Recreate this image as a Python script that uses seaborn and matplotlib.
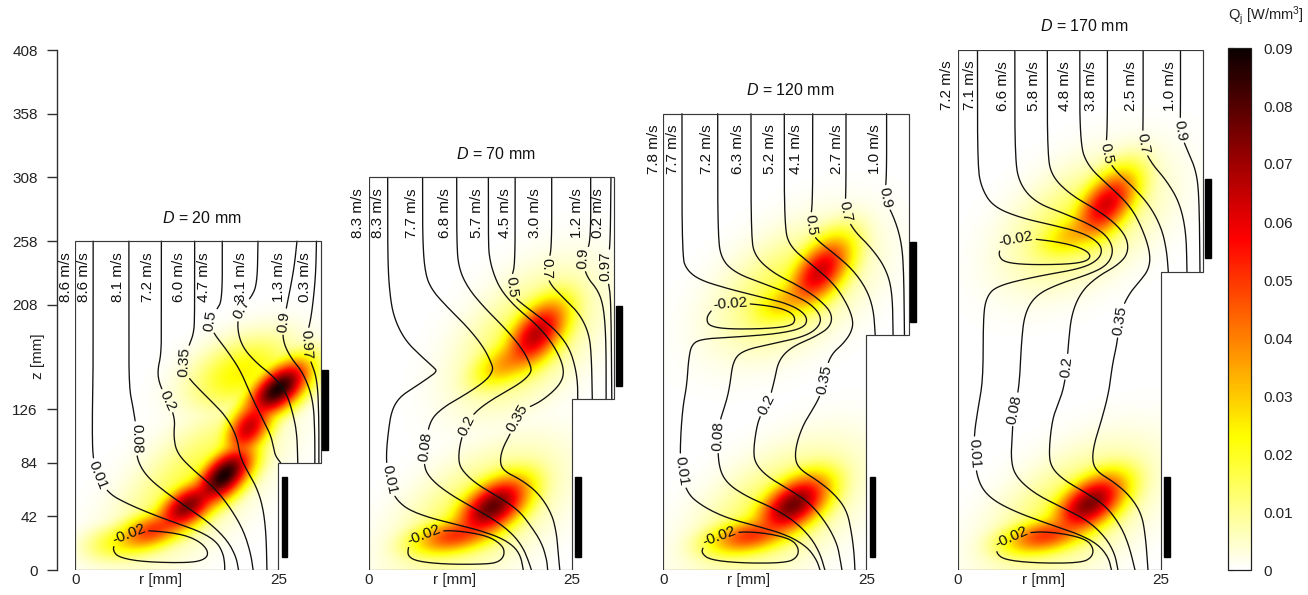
import numpy as np
import matplotlib
matplotlib.use("Agg")
import matplotlib.pyplot as plt
import matplotlib.transforms as mtransforms
from matplotlib.patches import Rectangle
from matplotlib import font_manager
import seaborn as sns

sns.set_theme(style="white")
_avail = {f.name for f in font_manager.fontManager.ttflist}
BASE = "Liberation Sans" if "Liberation Sans" in _avail else "DejaVu Sans"
plt.rcParams["font.family"] = [BASE, "DejaVu Sans"]
plt.rcParams["mathtext.fontset"] = "custom"
plt.rcParams["mathtext.rm"] = BASE
plt.rcParams["mathtext.it"] = BASE + ":italic"
plt.rcParams["mathtext.bf"] = BASE + ":bold"

# ------------------------------------------------------------------ data
D_MM = [20, 70, 120, 170]
Z_TOP = [258, 308, 358, 408]
Z_STEP = [84, 134, 184, 234]
R_LOWER = 25.0
R_UPPER = 30.2
Z_TICKS = [0, 42, 84, 126, 208, 258, 308, 358, 408]
CBAR_TICKS = [0, 0.01, 0.02, 0.03, 0.04, 0.05, 0.06, 0.07, 0.08, 0.09]
Q_MAX = 0.09
LOWER_COIL = (25.4, 26.1, 10.5, 72.8)          # r0, r1, z0, z1
UPPER_COIL_R = (30.4, 31.1)
UPPER_COIL_DZ = (74.5, 137.0)                  # z = D + ...

VEL_TXT = [
    ["8.6 m/s", "8.6 m/s", "8.1 m/s", "7.2 m/s", "6.0 m/s", "4.7 m/s", "3.1 m/s", "1.3 m/s", "0.3 m/s"],
    ["8.3 m/s", "8.3 m/s", "7.7 m/s", "6.8 m/s", "5.7 m/s", "4.5 m/s", "3.0 m/s", "1.2 m/s", "0.2 m/s"],
    ["7.8 m/s", "7.7 m/s", "7.2 m/s", "6.3 m/s", "5.2 m/s", "4.1 m/s", "2.7 m/s", "1.0 m/s"],
    ["7.2 m/s", "7.1 m/s", "6.6 m/s", "5.8 m/s", "4.8 m/s", "3.8 m/s", "2.5 m/s", "1.0 m/s"],
]
VEL_R = [
    [-1.15, 1.07, 5.3, 8.9, 12.8, 15.8, 20.4, 25.1, 28.3],
    [-1.3, 1.15, 5.3, 9.4, 13.3, 16.7, 20.4, 25.6, 28.2],
    [-1.2, 1.2, 5.35, 9.25, 13.2, 16.4, 21.4, 26.1],
    [-1.3, 1.5, 5.6, 9.4, 13.2, 16.4, 21.3, 26.1],
]

# heat sources: r, z, peak [W/mm3], spread along / across [px], tilt [deg]
HEAT_1 = [(25.0, 142, 0.088, 27, 14, 40), (21.4, 112, 0.064, 24, 14, 55),
          (18.3, 74, 0.088, 27, 14, 45), (13.8, 50, 0.074, 26, 14, 35),
          (9.5, 31, 0.05, 28, 13, 20), (5.8, 22, 0.022, 26, 13, 10),
          (20.5, 155, 0.024, 38, 22, 25), (15.0, 70, 0.018, 70, 30, 45)]
HEAT_2 = [(20.6, 185, 0.066, 31, 17, 50), (17.0, 163, 0.036, 28, 15, 30),
          (19.5, 182, 0.018, 55, 32, 45),
          (15.2, 49.5, 0.078, 31, 17, 35), (10.6, 27, 0.05, 32, 13, 12),
          (13.5, 45, 0.018, 60, 32, 35)]
HEAT_3 = [(19.3, 234, 0.063, 31, 17, 50), (15.5, 212, 0.032, 30, 15, 25),
          (16.0, 222, 0.018, 55, 32, 35),
          (16.0, 51, 0.076, 31, 17, 35), (10.8, 27, 0.05, 32, 13, 12),
          (14.0, 46, 0.018, 60, 32, 35)]
HEAT_4 = [(18.2, 287, 0.062, 31, 17, 50), (14.5, 265, 0.032, 30, 15, 25),
          (15.5, 274, 0.018, 55, 32, 35),
          (16.2, 52, 0.074, 31, 17, 35), (10.8, 27, 0.05, 32, 13, 12),
          (14.0, 46, 0.018, 60, 32, 35)]

# stream lines (r [mm], z [mm])
P1_001 = [(2.2,258),(2.2,200),(2.2,160),(2.1,125),(2.1,100),(2.2,88),(2.7,74),(4.1,60),(6.3,52.3),(9.2,44.4),(12.5,36.6),(15.4,30.1),(17.4,22.3),(18.2,13.1),(18.4,5),(18.4,0)]
P1_008 = [(6.6,258),(6.6,200),(6.6,144),(7.1,128),(7.5,112),(7.5,100),(7.6,86.3),(8.8,73.2),(11.3,60.1),(13.7,49.7),(16.6,36.6),(18.7,23.5),(19.8,10.5),(20.1,0)]
P1_020 = [(10.6,258),(10.6,200),(10.6,170),(10.1,156),(10.4,145),(11.4,133),(12.3,119),(12.1,105),(12.5,91.6),(14.5,78.5),(17.0,65.4),(19.0,49.7),(20.7,31.4),(21.6,13.1),(21.9,0)]
P1_035 = [(14.7,258),(14.7,200),(14.6,186),(14.0,176),(13.3,164),(13.6,154),(14.6,146),(16.6,133.4),(18.6,120.3),(19.9,104.6),(20.3,88.9),(21.1,78.5),(22.3,65.4),(23.1,49.7),(23.5,28.8),(23.6,0)]
P1_050 = [(18.1,258),(18.1,212),(17.4,204),(16.4,196),(17.0,186),(18.6,173),(20.3,157),(21.5,139),(22.7,123),(24.0,107),(24.4,97),(24.6,90),(25.3,84)]
P1_070 = [(22.5,258),(22.4,225),(21.7,214),(20.3,205),(19.9,191),(20.5,175.5),(22.3,162.4),(24.4,152),(26.0,139),(26.8,123),(27.3,107),(27.4,84)]
P1_090 = [(27.3,258),(27.0,240),(26.6,225),(26.0,206),(25.7,195),(25.5,181),(26.4,167.6),(28.1,154.5),(29.3,133.6),(29.5,107.4),(29.5,84)]
P1_097 = [(29.7,258),(29.6,230),(29.1,200),(28.6,186),(28.4,177),(28.9,165),(29.8,150),(30.0,120),(30.0,84)]
P1_LOOP = [(4.9,21),(5.8,26.5),(7.5,30.5),(9.2,31),(12.9,28.5),(15.2,23),(16.4,15),(16.1,8.5),(14.1,5.5),(8.4,6.3),(5.3,9.9),(4.6,15.7),(4.9,21)]

P2_001 = [(2.3,308),(2.3,246),(2.5,220),(3.0,199),(4.4,180.4),(6.5,167.3),(7.9,159.4),(8.4,156),(7.5,151.6),(5.7,143.8),(3.8,136),(2.8,125.5),(2.4,110),(2.1,90),(2.3,75),(2.7,64),(3.4,55),(4.9,47),(7.7,40.5),(11.0,35.5),(13.9,30.5),(16.3,25),(17.9,18.3),(18.7,10.5),(19.0,0)]
P2_008 = [(6.6,308),(6.6,259),(6.9,233),(7.7,220),(9.6,206.5),(12.1,190.8),(14.1,175),(15.1,162),(15.3,156.8),(14.5,149),(12.1,138.5),(9.2,128),(7.5,117.5),(7.0,99),(6.7,81),(7.7,70.6),(9.8,60.1),(12.6,49.7),(15.5,39.2),(17.6,28.8),(18.9,18.3),(19.6,7.8),(20.0,0)]
P2_020 = [(10.8,308),(10.8,259),(11.0,238),(12.1,222),(14.1,206.5),(17.0,188),(19.0,172.5),(20.0,159.4),(19.9,154),(18.6,146.3),(15.7,136),(13.3,125.5),(12.0,115),(11.2,99.4),(11.0,86.3),(11.4,78.5),(13.1,68),(15.9,57.5),(18.4,47.1),(20.0,34),(21.3,20.9),(21.9,7.8),(22.0,0)]
P2_035 = [(14.7,308),(14.7,259),(14.8,246),(15.3,233),(16.2,220),(18.0,206.5),(20.4,194),(22.3,180.4),(23.5,167.3),(24.0,156.8),(23.8,149),(22.9,141.2),(21.1,132),(19.4,127),(18.3,121),(17.5,108),(16.4,95),(16.1,84),(16.7,77.2),(18.8,70.6),(20.9,60.1),(22.5,44.4),(23.1,28.8),(23.3,13.1),(23.5,0)]
P2_050 = [(18.0,308),(18.0,240),(17.6,231),(17.5,222),(17.9,214),(19.0,208),(21.0,198.7),(23.2,186.9),(24.7,173.8),(25.4,159.4),(25.7,146.3),(25.7,134)]
P2_070 = [(22.5,308),(22.5,250),(22.0,243),(21.7,237),(22.2,225),(23.8,214.4),(25.9,201.3),(27.1,185.6),(27.4,167.3),(27.5,134)]
P2_090 = [(27.3,308),(27.3,256),(26.6,250),(26.2,244.5),(26.8,230),(28.2,219.6),(28.9,206.5),(29.2,180.4),(29.2,134)]
P2_097 = [(29.8,308),(29.7,251),(29.3,243),(29.1,238),(29.5,225),(29.8,212),(29.9,134)]
P2_LOOP = [(5.1,20.9),(6.5,27),(8.9,31.2),(11.8,30.2),(14.8,26.3),(16.5,19),(16.7,12),(16.1,6.8),(14.8,4.6),(9.8,4.4),(6.1,6.5),(4.8,10.5),(4.8,17),(5.1,20.9)]

P3_001 = [(2.3,358),(2.3,246),(2.9,235.3),(4.5,227.5),(7.8,221),(11.5,215),(14.8,210),(16.9,204),(17.8,197),(17.3,190),(14.4,185.6),(9.5,183),(4.9,181.5),(3.5,177.5),(3.1,165),(2.9,145),(2.4,128),(2.1,102),(2.1,80),(2.9,60.1),(4.9,49.7),(7.8,40.8),(11.5,34.5),(15.2,27.6),(17.7,18.3),(18.9,7.8),(19.3,0)]
P3_008 = [(6.7,358),(6.7,261.5),(7.2,243.2),(9.0,232.7),(12.3,224.8),(15.6,217),(18.1,209.2),(19.5,199),(19.1,190),(17.3,183),(13.6,177.8),(9.9,172.5),(8.6,164.7),(8.2,145),(7.8,133),(7.0,118),(6.7,104.6),(6.8,81.1),(7.8,68),(10.3,57.5),(13.2,49.7),(16.0,39.2),(18.1,26.2),(19.3,13.1),(19.9,0)]
P3_020 = [(10.8,358),(10.8,261.5),(11.3,245.8),(13.6,232.7),(16.9,222.3),(19.3,211.8),(20.8,201.3),(20.6,190.8),(18.7,183),(15.8,175.1),(14.2,164.7),(13.7,149),(13.0,132),(12.0,122),(11.5,112.5),(11.1,94.2),(11.3,83.7),(12.8,73.2),(15.6,62.8),(18.1,52.3),(20.1,36.6),(21.4,20.9),(21.8,7.8),(22.0,0)]
P3_035 = [(14.9,358),(14.9,269.3),(15.6,253.6),(18.1,240.5),(21.0,224.8),(22.6,209.2),(23.4,196.1),(23.2,187),(22.2,177.8),(20.8,170),(20.1,159.6),(19.9,149),(19.4,138),(18.6,128),(17.3,115),(16.4,99.4),(16.2,86.3),(16.9,78.5),(18.9,70.6),(21.0,60.1),(22.6,47.1),(23.2,28.8),(23.5,13.1),(23.6,0)]
P3_050 = [(18.4,358),(18.4,287.6),(18.1,276),(18.2,266),(18.9,258.9),(21.0,248.5),(23.4,235.3),(25.1,219.6),(25.9,203.9),(26.1,184)]
P3_070 = [(22.5,358),(22.5,293),(22.3,281),(23.4,266.7),(25.5,253.6),(27.3,237.9),(28.2,219.6),(28.3,184)]
P3_090 = [(27.5,358),(27.5,303),(27.1,291.6),(28.2,280),(29.2,261.5),(29.6,240.5),(29.7,184)]
P3_LOOP_UP = [(5.8,203),(6.7,207.5),(8.2,209.3),(10.7,209),(14.0,206.3),(15.8,202),(16.3,196.5),(15.8,191.5),(12.7,189.3),(7.8,189),(5.6,191.5),(5.3,197.4),(5.8,203)]
P3_LOOP_LO = [(4.9,18.3),(6.3,25.5),(9.2,30.3),(12.7,29.0),(15.8,24.2),(16.7,17.0),(16.5,10),(15.2,5.6),(9.9,5.3),(5.8,7.8),(4.7,13.1),(4.9,18.3)]

P4_001 = [(2.4,408),(2.4,317),(2.9,299.6),(4.3,285.2),(7.6,276.5),(11.6,270.7),(15.2,264.9),(17.2,257.7),(17.8,250.5),(17.2,243),(15.2,236.5),(9.6,230.3),(4.8,223),(3.5,214.4),(3.1,198.5),(3.1,150),(2.5,128),(2.0,107.3),(2.0,91.5),(2.4,70.6),(3.7,57.5),(6.5,47.1),(10.9,36.6),(14.6,28.8),(17.1,20.9),(18.5,10.5),(18.9,0)]
P4_008 = [(7.0,408),(7.0,322.7),(7.6,302.5),(9.6,288.1),(13.2,279.4),(16.4,270.7),(18.4,262),(19.2,250.5),(18.4,239),(16.0,231.7),(12.4,224.5),(9.6,215.8),(8.2,201.4),(7.8,178.2),(7.6,149.3),(7.2,132),(6.8,121.6),(6.7,107.3),(6.5,86.3),(7.1,73.2),(9.4,60.1),(12.6,49.7),(15.9,39.2),(18.1,26.2),(19.3,13.1),(19.7,0)]
P4_020 = [(11.0,408),(11.0,325.6),(11.6,308.3),(14.0,293.8),(17.2,282.3),(19.6,270.7),(20.9,259.2),(20.9,247.6),(19.6,238.9),(17.2,230.3),(15.2,218.7),(14.0,201.4),(13.6,178.2),(13.4,159.4),(13.0,142),(12.3,130),(11.6,117.7),(11.2,94.2),(11.4,81.1),(13.0,70.6),(15.9,60.1),(18.3,49.7),(20.1,34),(21.1,18.3),(21.8,0)]
P4_035 = [(15.0,408),(15.0,334.3),(16.0,317),(18.4,302.5),(21.3,285.2),(22.9,264.9),(23.7,247.6),(23.5,236),(22.5,227.4),(21.3,218.7),(20.3,207.1),(19.9,195.6),(19.6,178.2),(19.0,160.9),(18.6,140),(17.7,118),(16.8,100),(16.5,86),(17.1,77.2),(19.1,69.4),(21.1,58.8),(22.6,44.4),(23.1,26.2),(23.4,0)]
P4_050 = [(18.4,408),(18.4,343),(18.1,327),(19.2,314.1),(21.7,299.6),(23.7,285.2),(25.1,267.8),(25.7,250.5),(25.9,234)]
P4_070 = [(22.8,408),(22.8,349),(22.7,334.3),(23.7,320),(25.7,305.4),(27.3,288.1),(28.1,264.9),(28.2,234)]
P4_090 = [(27.4,408),(27.4,354.5),(27.3,344.4),(28.1,331.4),(29.3,314.1),(29.7,293.8),(29.8,234)]
P4_LOOP_UP = [(5.2,252.5),(6.0,257.5),(7.1,260),(9.2,260),(13.2,256.5),(15.6,251.5),(16.4,246.5),(15.8,242),(13.4,239.8),(8.4,239.5),(5.7,241.5),(5.0,246.5),(5.2,252.5)]
P4_LOOP_LO = [(4.9,18.3),(6.3,25.5),(9.2,30.3),(12.7,29.0),(15.8,24.2),(16.7,17.0),(16.5,10),(15.2,5.6),(9.9,5.3),(5.8,7.8),(4.7,13.1),(4.9,18.3)]

# level label, line, label anchor points
PANEL_LINES = [
    [("0.01", P1_001, [(2.7, 74)]), ("0.08", P1_008, [(7.5, 103)]), ("0.2", P1_020, [(11.4, 133)]),
     ("0.35", P1_035, [(13.3, 163)]), ("0.5", P1_050, [(16.4, 196)]), ("0.7", P1_070, [(20.3, 205)]),
     ("0.9", P1_090, [(25.7, 195)]), ("0.97", P1_097, [(28.4, 177)]), ("-0.02", P1_LOOP, [(6.6, 29)])],
    [("0.01", P2_001, [(2.3, 70.6)]), ("0.08", P2_008, [(7.0, 97)]), ("0.2", P2_020, [(11.9, 114)]),
     ("0.35", P2_035, [(18.2, 119)]), ("0.5", P2_050, [(17.5, 222)]), ("0.7", P2_070, [(21.7, 237)]),
     ("0.9", P2_090, [(26.2, 244.5)]), ("0.97", P2_097, [(29.1, 238)]), ("-0.02", P2_LOOP, [(6.7, 28.8)])],
    [("0.01", P3_001, [(2.2, 78)]), ("0.08", P3_008, [(6.8, 105)]), ("0.2", P3_020, [(12.9, 129)]),
     ("0.35", P3_035, [(19.9, 149)]), ("0.5", P3_050, [(18.1, 270.6)]), ("0.7", P3_070, [(22.3, 281)]),
     ("0.9", P3_090, [(27.1, 291.6)]), ("-0.02", P3_LOOP_UP, [(8.2, 209.5)]), ("-0.02", P3_LOOP_LO, [(6.8, 28.5)])],
    [("0.01", P4_001, [(2.0, 91.5)]), ("0.08", P4_008, [(7.0, 126)]), ("0.2", P4_020, [(13.4, 159.4)]),
     ("0.35", P4_035, [(19.9, 195.6)]), ("0.5", P4_050, [(18.1, 327)]), ("0.7", P4_070, [(22.7, 334.3)]),
     ("0.9", P4_090, [(27.3, 344.4)]), ("-0.02", P4_LOOP_UP, [(7.1, 259.5)]), ("-0.02", P4_LOOP_LO, [(6.3, 28.5)])],
]
HEATS = [HEAT_1, HEAT_2, HEAT_3, HEAT_4]

# ------------------------------------------------------------------ layout
W, H = 1308, 595
SX = 8.12            # px per mm (r)
SZ = 520.0 / 408.0   # px per mm (z)
PANEL_X0 = [75.3, 369.0, 663.3, 958.0]
Y_BOTTOM = 570
XMAX = 32.0
FS = 11
FS_LAB = 11

fig = plt.figure(figsize=(W / 100, H / 100), dpi=100)
renderer = fig.canvas.get_renderer()
cmap = plt.get_cmap("hot_r").copy()
cmap.set_bad((1, 1, 1, 0))


def heat_field(R, Z, comps):
    acc = np.zeros_like(R)
    for (r0, z0, a, su, sv, ang) in comps:
        dx = (R - r0) * SX
        dy = (Z - z0) * SZ
        th = np.radians(ang)
        u = dx * np.cos(th) + dy * np.sin(th)
        v = -dx * np.sin(th) + dy * np.cos(th)
        g = a * np.exp(-0.5 * ((u / su) ** 2 + (v / sv) ** 2))
        acc += g ** 4
    return acc ** 0.25


def chaikin(pts, n=2):
    P = np.asarray(pts, float)
    closed = np.allclose(P[0], P[-1])
    if closed:
        P = P[:-1]
    for _ in range(n):
        if closed:
            Q = np.roll(P, -1, axis=0)
            A = 0.75 * P + 0.25 * Q
            B = 0.25 * P + 0.75 * Q
            N = np.empty((2 * len(P), 2)); N[0::2] = A; N[1::2] = B
            P = N
        else:
            A = 0.75 * P[:-1] + 0.25 * P[1:]
            B = 0.25 * P[:-1] + 0.75 * P[1:]
            N = np.empty((2 * len(A), 2)); N[0::2] = A; N[1::2] = B
            P = np.vstack([P[:1], N, P[-1:]])
    if closed:
        P = np.vstack([P, P[:1]])
    return P


def densify(ax, P):
    Dd = ax.transData.transform(P)
    out = [P[0]]
    for i in range(len(P) - 1):
        seg = np.hypot(*(Dd[i + 1] - Dd[i]))
        n = max(1, int(np.ceil(seg / 0.8)))
        t = np.linspace(0, 1, n + 1)[1:]
        out.extend(P[i] + (P[i + 1] - P[i]) * t[:, None])
    return np.array(out)


def text_width(txt, fs):
    t = fig.text(0, 0, txt, fontsize=fs)
    w = t.get_window_extent(renderer).width
    t.remove()
    return w


def draw_stream(ax, txt, pts, anchors):
    P = densify(ax, chaikin(pts, 3))
    Dd = ax.transData.transform(P)
    keep = np.ones(len(P), bool)
    for (lr, lz) in anchors:
        c = ax.transData.transform((lr, lz))
        k = int(np.argmin(np.hypot(*(Dd - c).T)))
        k0, k1 = max(0, k - 10), min(len(P) - 1, k + 10)
        dx, dy = Dd[k1] - Dd[k0]
        ang = np.degrees(np.arctan2(dy, dx))
        if ang > 90:
            ang -= 180
        if ang <= -90:
            ang += 180
        ax.text(P[k, 0], P[k, 1], txt, rotation=ang, rotation_mode="anchor",
                ha="center", va="center", fontsize=FS_LAB, color="#111111", zorder=5)
        w = text_width(txt, FS_LAB)
        keep &= np.hypot(*(Dd - Dd[k]).T) > w / 2 + 2.5
    idx = np.where(keep)[0]
    if len(idx) == 0:
        return
    runs = np.split(idx, np.where(np.diff(idx) > 1)[0] + 1)
    for run in runs:
        if len(run) < 2:
            continue
        sns.lineplot(x=P[run, 0], y=P[run, 1], sort=False, estimator=None,
                     color="#111111", linewidth=0.95, ax=ax, zorder=4)


im = None
axes = []
for i in range(4):
    x0 = PANEL_X0[i]
    ax = fig.add_axes([x0 / W, (H - Y_BOTTOM) / H, XMAX * SX / W, 408 * SZ / H])
    ax.set_xlim(0, XMAX)
    ax.set_ylim(0, 408)
    ax.set_facecolor("none")
    for s in ax.spines.values():
        s.set_visible(False)
    axes.append(ax)
    top, step, D = Z_TOP[i], Z_STEP[i], D_MM[i]

    # Joule heat field
    r = np.linspace(0, R_UPPER, 320)
    z = np.linspace(0, top, 900)
    RR, ZZ = np.meshgrid(r, z)
    Q = heat_field(RR, ZZ, HEATS[i])
    Q = np.ma.masked_where((RR > R_LOWER) & (ZZ < step), Q)
    im = ax.imshow(Q, extent=[0, R_UPPER, 0, top], origin="lower", aspect="auto",
                   cmap=cmap, vmin=0, vmax=Q_MAX, interpolation="bilinear", zorder=1)

    # stream lines
    for (txt, pts, anchors) in PANEL_LINES[i]:
        draw_stream(ax, txt, pts, anchors)

    # domain outline
    ox = [0, 0, R_UPPER, R_UPPER, R_LOWER, R_LOWER, 0]
    oz = [0, top, top, step, step, 0, 0]
    ax.plot(ox, oz, color="#383838", lw=0.85, zorder=6, solid_joinstyle="miter")

    # coils
    r0, r1, z0, z1 = LOWER_COIL
    ax.add_patch(Rectangle((r0, z0), r1 - r0, z1 - z0, color="black", zorder=6, clip_on=False))
    ax.add_patch(Rectangle((UPPER_COIL_R[0], D + UPPER_COIL_DZ[0]), UPPER_COIL_R[1] - UPPER_COIL_R[0],
                           UPPER_COIL_DZ[1] - UPPER_COIL_DZ[0], color="black", zorder=6, clip_on=False))

    # outlet velocities
    for t, rv in zip(VEL_TXT[i], VEL_R[i]):
        ax.text(rv, top - 28, t, rotation=90, ha="center", va="center",
                fontsize=FS, clip_on=False, zorder=7, color="#111111")

    # title
    ax.annotate(r"$\mathit{D}$ = %d mm" % D, xy=(15.6, top), xycoords="data",
                xytext=(0, 17), textcoords="offset points", ha="center", va="center",
                fontsize=11.5, annotation_clip=False, color="#111111")

    # x ticks
    ax.set_xticks([0, 25])
    ax.set_xticklabels(["0", "25"])
    ax.tick_params(axis="x", length=0, pad=2, labelsize=FS, colors="#222222")
    ax.annotate("r [mm]", xy=(10.5, 0), xycoords=("data", "axes fraction"),
                xytext=(0, -2), textcoords="offset points", ha="center", va="top",
                fontsize=FS, color="#222222", annotation_clip=False)
    if i == 0:
        ax.spines["left"].set_visible(True)
        ax.spines["left"].set_position(("outward", 13))
        ax.spines["left"].set_color("#303030")
        ax.spines["left"].set_linewidth(1.0)
        ax.spines["left"].set_bounds(0, 408)
        ax.set_yticks(Z_TICKS)
        ax.set_yticklabels([str(v) for v in Z_TICKS])
        ax.tick_params(axis="y", left=True, direction="out", length=7, width=1.0,
                       color="#303030", pad=7, labelsize=FS, labelcolor="#222222")
        tr = mtransforms.blended_transform_factory(fig.transFigure, ax.transData)
        ax.text(38 / W, 168, "z [mm]", rotation=90, ha="center", va="center",
                transform=tr, fontsize=FS, color="#222222")
    else:
        ax.set_yticks([])

# colour bar
cax = fig.add_axes([1228 / W, (H - 570) / H, 23 / W, 522 / H])
cb = fig.colorbar(im, cax=cax, ticks=CBAR_TICKS)
cb.set_ticklabels(["0"] + ["%.2f" % t for t in CBAR_TICKS[1:]])
cb.outline.set_linewidth(0.9)
cb.outline.set_edgecolor("#202020")
cax.tick_params(axis="y", which="both", left=True, right=False, labelleft=False,
                labelright=True, direction="in", length=4, width=0.8, color="#333333",
                pad=9, labelsize=FS, labelcolor="#222222")
fig.text(1266 / W, 1 - 16 / H, r"Q$_\mathrm{j}$ [W/mm$^3$]", ha="center", va="center",
         fontsize=10.5, color="#222222")

fig.savefig("out.png", dpi=100, facecolor="white")
